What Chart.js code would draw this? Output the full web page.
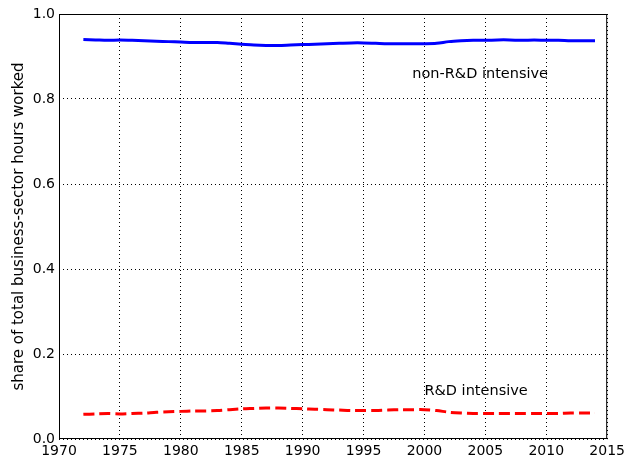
<!DOCTYPE html>
<html>
<head>
<meta charset="utf-8">
<script src="https://cdn.jsdelivr.net/npm/chart.js@4"></script>
<style>
  html, body { margin: 0; padding: 0; background: #fff; }
  #wrap { width: 629px; height: 464px; }
</style>
</head>
<body>
<div id="wrap"><canvas id="c" width="629" height="464"></canvas></div>
<script>
// data
const years = [1972,1973,1974,1975,1976,1977,1978,1979,1980,1981,1982,1983,1984,1985,1986,1987,1988,1989,1990,1991,1992,1993,1994,1995,1996,1997,1998,1999,2000,2001,2002,2003,2004,2005,2006,2007,2008,2009,2010,2011,2012,2013,2014];
const nonRD = [0.940,0.939,0.938,0.939,0.938,0.937,0.936,0.935,0.934,0.933,0.933,0.933,0.931,0.929,0.927,0.926,0.926,0.927,0.928,0.929,0.930,0.931,0.932,0.932,0.931,0.930,0.930,0.930,0.930,0.931,0.935,0.937,0.938,0.938,0.939,0.939,0.938,0.939,0.938,0.938,0.937,0.937,0.937];
const rd = [0.058,0.059,0.060,0.059,0.060,0.061,0.063,0.064,0.065,0.066,0.066,0.067,0.069,0.071,0.072,0.073,0.073,0.072,0.071,0.070,0.069,0.068,0.067,0.067,0.067,0.068,0.069,0.069,0.069,0.067,0.063,0.061,0.060,0.060,0.060,0.060,0.060,0.060,0.060,0.060,0.061,0.061,0.061];
const xTicks = [1970,1975,1980,1985,1990,1995,2000,2005,2010,2015];
const yTicks = [0.0,0.2,0.4,0.6,0.8,1.0];
const labels = [
  {text: 'non-R&D intensive', x: 1999.0, y: 0.859},
  {text: 'R&D intensive', x: 2000.0, y: 0.112}
];

const FONT = 'DejaVu Sans';

// box around plot area + text labels
const boxPlugin = {
  id: 'box',
  afterDatasetsDraw(chart) {
    const {ctx, chartArea: a, scales} = chart;
    ctx.save();
    ctx.strokeStyle = '#000';
    ctx.lineWidth = 1;
    ctx.strokeRect(a.left + 0.5, a.top + 0.5, a.right - a.left - 1, a.bottom - a.top - 1);
    ctx.fillStyle = '#000';
    ctx.font = '14.5px "' + FONT + '"';
    ctx.textBaseline = 'middle';
    labels.forEach(l => {
      ctx.fillText(l.text, scales.x.getPixelForValue(l.x), scales.y.getPixelForValue(l.y));
    });
    ctx.restore();
  }
};

const pts = arr => years.map((y, i) => ({x: y, y: arr[i]}));

new Chart(document.getElementById('c').getContext('2d'), {
  type: 'line',
  data: {
    datasets: [{
      label: 'non-R&D intensive',
      data: pts(nonRD),
      borderColor: '#0000ff',
      borderWidth: 3,
      pointRadius: 0,
      tension: 0.3,
      fill: false
    }, {
      label: 'R&D intensive',
      data: pts(rd),
      borderColor: '#ff0000',
      borderWidth: 3,
      borderDash: [11, 5],
      pointRadius: 0,
      tension: 0.3,
      fill: false
    }]
  },
  options: {
    responsive: false,
    animation: false,
    layout: {padding: {top: 14, right: 20, left: 0, bottom: 0}},
    plugins: {legend: {display: false}, tooltip: {enabled: false}},
    scales: {
      x: {
        type: 'linear',
        min: 1970, max: 2015,
        afterBuildTicks: s => { s.ticks = xTicks.map(v => ({value: v})); },
        afterFit: s => { s.height = 25; },
        grid: {color: '#000', lineWidth: 1, drawTicks: false},
        border: {display: false, dash: [1, 3]},
        ticks: {color: '#000', font: {family: FONT, size: 14}, padding: 4, maxRotation: 0,
          callback: v => String(v)}
      },
      y: {
        min: 0, max: 1,
        afterBuildTicks: s => { s.ticks = yTicks.map(v => ({value: v})); },
        afterFit: s => { s.width = 59; },
        grid: {color: '#000', lineWidth: 1, drawTicks: false},
        border: {display: false, dash: [1, 3]},
        ticks: {color: '#000', font: {family: FONT, size: 14}, padding: 4,
          callback: v => v.toFixed(1)},
        title: {display: true, text: 'share of total business-sector hours worked',
          color: '#000', font: {family: FONT, size: 15}, padding: {top: 10, bottom: 4}}
      }
    }
  },
  plugins: [boxPlugin]
});
</script>
</body>
</html>
